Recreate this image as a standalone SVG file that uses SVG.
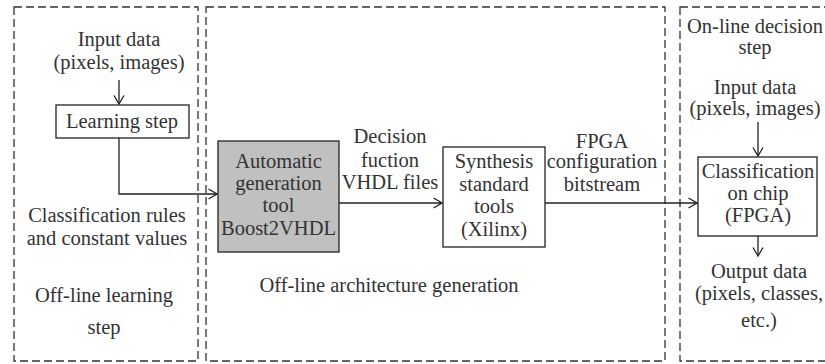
<svg xmlns="http://www.w3.org/2000/svg" width="825" height="364" viewBox="0 0 825 364">
  <style>
    .frame { fill: none; stroke: #333; stroke-width: 1.3; stroke-dasharray: 8 4; }
    .box { fill: #fff; stroke: #222; stroke-width: 1.3; }
    .box.grey { fill: #c0c0c0; }
    .t { font-family: "Liberation Serif", "Times New Roman", serif; font-size: 20.5px; fill: #333; text-anchor: middle; }
    .t.start { text-anchor: start; }
    .wire { fill: none; stroke: #222; stroke-width: 1.3; }
  </style>
  <defs>
    <marker id="arrow" viewBox="0 0 10 12" refX="9.5" refY="6" markerWidth="10" markerHeight="12" markerUnits="userSpaceOnUse" orient="auto">
      <path d="M1,1 L9.5,6 L1,11" fill="none" stroke="#222" stroke-width="1.3"/>
    </marker>
  </defs>
  <rect width="825" height="364" fill="#fff"/>

  <!-- stage frames -->
  <g id="stage-offline-learning">
    <rect class="frame" x="14" y="7" width="184" height="354"/>
    <text class="t" x="119" y="46">Input data</text>
    <text class="t" x="119" y="69">(pixels, images)</text>
    <text class="t" x="107" y="222">Classification rules</text>
    <text class="t" x="107" y="245">and constant values</text>
    <text class="t" x="104" y="302">Off-line learning</text>
    <text class="t" x="104" y="334">step</text>
  </g>
  <g id="stage-offline-architecture">
    <rect class="frame" x="206" y="7" width="459" height="354"/>
    <text class="t" x="390" y="143">Decision</text>
    <text class="t" x="390" y="167">fuction</text>
    <text class="t" x="390" y="189">VHDL files</text>
    <text class="t" x="602" y="148">FPGA</text>
    <text class="t" x="602" y="168">configuration</text>
    <text class="t" x="602" y="191">bitstream</text>
    <text class="t" x="389" y="292">Off-line architecture generation</text>
  </g>
  <g id="stage-online-decision">
    <rect class="frame" x="680" y="7" width="160" height="354"/>
    <text class="t start" x="687" y="33">On-line decision</text>
    <text class="t" x="755" y="54">step</text>
    <text class="t" x="755" y="94">Input data</text>
    <text class="t" x="755" y="115">(pixels, images)</text>
    <text class="t" x="759" y="278">Output data</text>
    <text class="t" x="759" y="300">(pixels, classes,</text>
    <text class="t" x="759" y="327">etc.)</text>
  </g>

  <!-- process nodes -->
  <g id="learning-step">
    <rect class="box" x="56" y="105" width="133" height="33"/>
    <text class="t" x="122" y="128">Learning step</text>
  </g>
  <g id="boost2vhdl">
    <rect class="box grey" x="218" y="141" width="121" height="111"/>
    <text class="t" x="278.5" y="168">Automatic</text>
    <text class="t" x="278.5" y="190">generation</text>
    <text class="t" x="278.5" y="212">tool</text>
    <text class="t" x="278.5" y="235">Boost2VHDL</text>
  </g>
  <g id="synthesis">
    <rect class="box" x="443" y="147" width="102" height="100"/>
    <text class="t" x="494" y="168">Synthesis</text>
    <text class="t" x="494" y="191">standard</text>
    <text class="t" x="494" y="213">tools</text>
    <text class="t" x="494" y="236">(Xilinx)</text>
  </g>
  <g id="classification-chip">
    <rect class="box" x="698" y="157" width="119" height="79"/>
    <text class="t" x="758" y="178">Classification</text>
    <text class="t" x="758" y="200">on chip</text>
    <text class="t" x="758" y="222">(FPGA)</text>
  </g>

  <!-- connectors -->
  <g id="connectors">
    <path class="wire" d="M119,80 V104" marker-end="url(#arrow)"/>
    <path class="wire" d="M119,138 V194 H217" marker-end="url(#arrow)"/>
    <path class="wire" d="M339,203 H442" marker-end="url(#arrow)"/>
    <path class="wire" d="M545,203 H697" marker-end="url(#arrow)"/>
    <path class="wire" d="M758,122 V156" marker-end="url(#arrow)"/>
    <path class="wire" d="M758,236 V256" marker-end="url(#arrow)"/>
  </g>
</svg>
